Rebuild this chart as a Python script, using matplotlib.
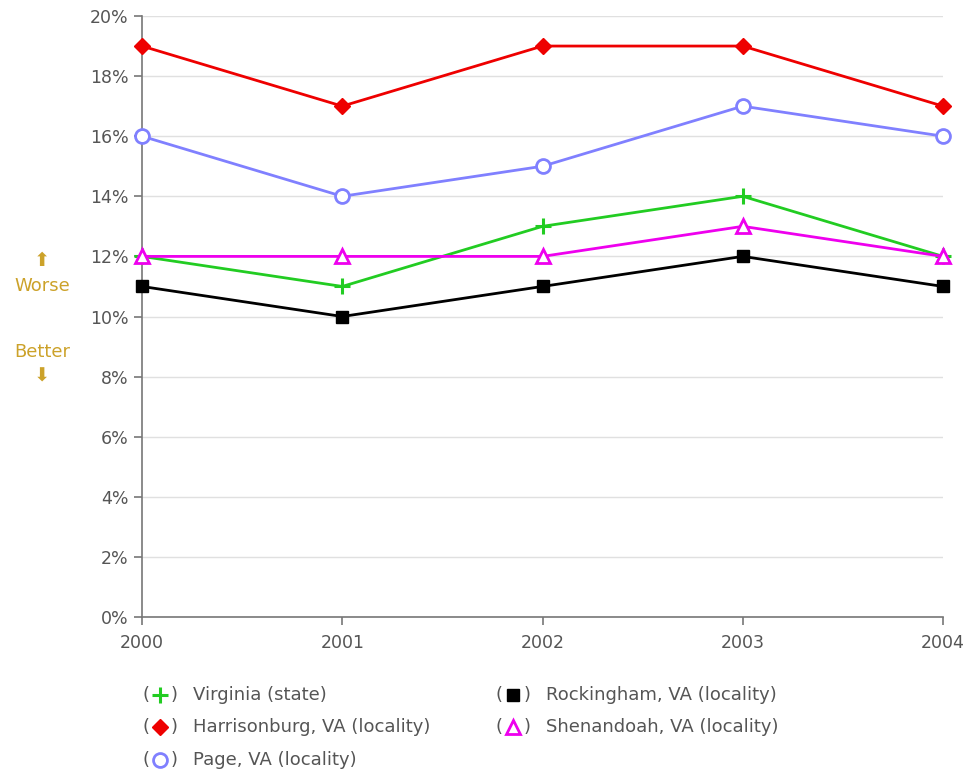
import matplotlib
matplotlib.use("Agg")
import matplotlib.pyplot as plt
from matplotlib.lines import Line2D

years = [2000, 2001, 2002, 2003, 2004]
virginia = [12, 11, 13, 14, 12]
harrisonburg = [19, 17, 19, 19, 17]
page = [16, 14, 15, 17, 16]
rockingham = [11, 10, 11, 12, 11]
shenandoah = [12, 12, 12, 13, 12]
yticks = list(range(0, 21, 2))

series = [
    ("Virginia (state)", virginia, "#22cc22", "+", dict(markersize=11, markeredgewidth=2.2)),
    ("Harrisonburg, VA (locality)", harrisonburg, "#ee0000", "D", dict(markersize=8)),
    ("Page, VA (locality)", page, "#8080ff", "o", dict(markersize=10, markerfacecolor="white", markeredgewidth=2)),
    ("Rockingham, VA (locality)", rockingham, "#000000", "s", dict(markersize=8)),
    ("Shenandoah, VA (locality)", shenandoah, "#ee00ee", "^", dict(markersize=10, markerfacecolor="white", markeredgewidth=2)),
]
order_draw = [1, 2, 0, 4, 3]

fig = plt.figure(figsize=(9.72, 7.77), dpi=100)
ax = fig.add_axes([142/972, 1-617/777, (943-142)/972, (617-16)/777])

for i in order_draw:
    name, vals, c, m, kw = series[i]
    kw2 = dict(kw)
    mfc = kw2.pop("markerfacecolor", c)
    ax.plot(years, vals, color=c, lw=2.0, marker=m, markeredgecolor=c,
            markerfacecolor=mfc, clip_on=False, zorder=3, **kw2)

ax.set_xlim(2000, 2004)
ax.set_ylim(0, 20)
ax.set_xticks(years)
ax.set_xticklabels([str(y) for y in years])
ax.set_yticks(yticks)
ax.set_yticklabels([f"{t}%" for t in yticks])
ax.grid(axis="y", color="#e0e0e0", lw=1)
ax.set_axisbelow(True)
for s in ["top", "right"]:
    ax.spines[s].set_visible(False)
for s in ["left", "bottom"]:
    ax.spines[s].set_color("#777777")
    ax.spines[s].set_linewidth(1.2)
ax.tick_params(axis="both", colors="#777777", length=6, width=1.2, labelcolor="#555555", labelsize=12.5)
ax.tick_params(axis="x", pad=6)

gold = "#cca22a"
fig.text(42/972, 1-261/777, "\u2B06", color=gold, ha="center", va="center", fontsize=14)
fig.text(42/972, 1-286/777, "Worse", color=gold, ha="center", va="center", fontsize=13)
fig.text(42/972, 1-352/777, "Better", color=gold, ha="center", va="center", fontsize=13)
fig.text(42/972, 1-376/777, "\u2B07", color=gold, ha="center", va="center", fontsize=14)

positions = [(160, 695), (160, 727), (160, 760), (513, 695), (513, 727)]
for (name, vals, c, m, kw), (px, py) in zip(series, positions):
    fx, fy = px/972, 1-py/777
    fig.text(fx-14/972, fy, "(", color="#555555", ha="center", va="center", fontsize=13)
    fig.text(fx+14/972, fy, ")", color="#555555", ha="center", va="center", fontsize=13)
    kw2 = dict(kw)
    mfc = kw2.pop("markerfacecolor", c)
    fig.add_artist(Line2D([fx], [fy], marker=m, color=c, markeredgecolor=c,
                          markerfacecolor=mfc, linestyle="none", **kw2))
    fig.text(fx+33/972, fy, name, color="#555555", ha="left", va="center", fontsize=13)

fig.savefig("out.png", dpi=100)
